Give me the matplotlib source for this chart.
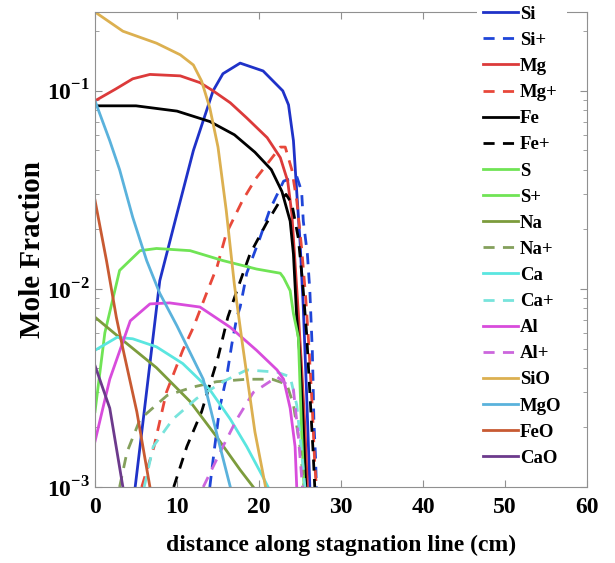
import matplotlib
matplotlib.use("Agg")
import matplotlib.pyplot as plt

plt.rcParams["font.family"] = ["Liberation Serif", "DejaVu Serif"]
plt.rcParams["font.weight"] = "bold"
plt.rcParams["mathtext.fontset"] = "custom"
plt.rcParams["mathtext.rm"] = "Liberation Serif:bold"
plt.rcParams["mathtext.bf"] = "Liberation Serif:bold"

# ─── data (distance in cm, mole fraction) ─────────────────────────────────────
si_x = [4.9, 6.1, 7.9, 10.0, 12.0, 14.4, 15.6, 17.7, 20.5, 22.9, 23.6, 24.2, 24.6, 25.0, 25.4, 25.8, 26.2]
si_y = [0.001, 0.0026, 0.011, 0.024, 0.050, 0.100, 0.122, 0.138, 0.126, 0.100, 0.085, 0.056, 0.031, 0.0175, 0.0081, 0.003, 0.001]
sip_x = [14.0, 14.6, 15.2, 16.1, 16.7, 17.3, 17.7, 18.3, 18.5, 20.1, 21.3, 23.0, 24.6, 25.2, 25.4, 25.9, 26.2, 26.5, 26.6, 26.7, 26.9, 27.0]
sip_y = [0.001, 0.0016, 0.0025, 0.0037, 0.0053, 0.0072, 0.0081, 0.0108, 0.012, 0.018, 0.025, 0.035, 0.037, 0.031, 0.022, 0.015, 0.0098, 0.0049, 0.0033, 0.0021, 0.0014, 0.001]
mg_x = [0, 2.5, 4.6, 6.7, 10.4, 12.8, 14.4, 16.5, 18.5, 21.0, 22.6, 23.5, 24.0, 24.4, 24.8, 25.2, 25.6, 25.9]
mg_y = [0.089, 0.102, 0.115, 0.121, 0.119, 0.110, 0.100, 0.087, 0.073, 0.058, 0.046, 0.035, 0.024, 0.0135, 0.0075, 0.004, 0.002, 0.001]
mgp_x = [5.7, 7.2, 8.7, 10.7, 12.0, 13.6, 14.9, 16.0, 18.0, 19.6, 22.6, 23.2, 24.0, 24.6, 25.2, 25.7, 26.1, 26.5, 26.8, 27.0]
mgp_y = [0.001, 0.0016, 0.003, 0.0049, 0.0064, 0.0095, 0.013, 0.019, 0.028, 0.036, 0.052, 0.052, 0.040, 0.028, 0.016, 0.009, 0.005, 0.0025, 0.0013, 0.001]
fe_x = [0, 5.0, 10.0, 14.0, 17.0, 19.5, 21.5, 22.8, 23.8, 24.2, 24.6, 25.0, 25.4, 25.7]
fe_y = [0.084, 0.084, 0.079, 0.070, 0.060, 0.049, 0.040, 0.031, 0.022, 0.015, 0.0072, 0.0045, 0.002, 0.001]
fep_x = [9.6, 11.2, 13.0, 15.0, 16.2, 17.3, 18.9, 20.9, 22.6, 23.3, 24.0, 24.8, 25.3, 25.8, 26.2, 26.6, 26.8]
fep_y = [0.001, 0.0016, 0.0024, 0.0045, 0.0072, 0.0098, 0.015, 0.0214, 0.028, 0.030, 0.027, 0.018, 0.011, 0.006, 0.003, 0.0015, 0.001]
s_x = [0, 1.2, 3.0, 5.5, 7.5, 11.6, 15.6, 19.7, 22.6, 23.0, 23.8, 24.2, 24.8, 25.2, 25.4, 25.5]
s_y = [0.0024, 0.006, 0.0124, 0.0156, 0.016, 0.0156, 0.0139, 0.0126, 0.012, 0.0114, 0.0098, 0.0075, 0.0057, 0.0019, 0.0012, 0.001]
sp_x = [0, 25.0]
sp_y = [0.0005, 0.0005]
na_x = [0, 3.4, 7.5, 11.6, 14.8, 17.7, 19.3]
na_y = [0.0072, 0.0055, 0.004, 0.0027, 0.0018, 0.00122, 0.001]
nap_x = [3.0, 3.9, 5.5, 8.8, 12.0, 14.8, 18.5, 21.6, 23.4, 24.2, 25.0, 25.5]
nap_y = [0.001, 0.0015, 0.0022, 0.0029, 0.0032, 0.0034, 0.0035, 0.0035, 0.0033, 0.0026, 0.0016, 0.001]
ca_x = [0, 2.7, 4.6, 7.5, 10.7, 14.0, 16.5, 18.5, 20.5, 21.1]
ca_y = [0.0049, 0.0057, 0.0056, 0.0051, 0.0042, 0.0031, 0.0022, 0.0016, 0.00112, 0.001]
cap_x = [6.0, 7.1, 9.5, 12.4, 15.6, 18.5, 22.2, 23.8, 24.6, 25.2, 25.6]
cap_y = [0.001, 0.0016, 0.0022, 0.0028, 0.0034, 0.0039, 0.0038, 0.0036, 0.0026, 0.0015, 0.001]
al_x = [0, 1.8, 4.3, 6.7, 9.1, 12.8, 16.5, 19.7, 22.2, 23.0, 23.8, 24.4, 24.6]
al_y = [0.0017, 0.0035, 0.0069, 0.0084, 0.0085, 0.0081, 0.0064, 0.0049, 0.0039, 0.0035, 0.0025, 0.0016, 0.001]
alp_x = [13.2, 15.6, 17.3, 19.3, 22.2, 24.2, 24.8, 25.3]
alp_y = [0.001, 0.0016, 0.0022, 0.0030, 0.0036, 0.0031, 0.0018, 0.001]
sio_x = [0, 3.4, 7.5, 10.4, 12.0, 13.0, 14.0, 15.0, 16.0, 17.0, 18.0, 19.5, 20.8]
sio_y = [0.25, 0.20, 0.174, 0.152, 0.135, 0.112, 0.082, 0.052, 0.025, 0.0105, 0.0052, 0.0019, 0.001]
mgo_x = [0, 1.8, 3.0, 4.6, 6.3, 7.9, 10.0, 13.2, 14.4, 15.6, 16.5]
mgo_y = [0.089, 0.056, 0.040, 0.023, 0.0139, 0.0095, 0.0065, 0.0035, 0.0022, 0.0014, 0.001]
feo_x = [0, 1.4, 2.6, 3.4, 5.1, 6.7]
feo_y = [0.028, 0.0139, 0.0072, 0.005, 0.0024, 0.001]
cao_x = [0, 1.8, 3.4]
cao_y = [0.0041, 0.0025, 0.001]

# (label, x, y, colour, dashed)
series = [
    ("Si",  si_x,  si_y,  "#1f32c8", False),
    ("Si+", sip_x, sip_y, "#1f45d8", True),
    ("Mg",  mg_x,  mg_y,  "#dc3a3a", False),
    ("Mg+", mgp_x, mgp_y, "#e8483a", True),
    ("Fe",  fe_x,  fe_y,  "#000000", False),
    ("Fe+", fep_x, fep_y, "#000000", True),
    ("S",   s_x,   s_y,   "#70e455", False),
    ("S+",  sp_x,  sp_y,  "#70e455", False),
    ("Na",  na_x,  na_y,  "#7c9c3c", False),
    ("Na+", nap_x, nap_y, "#84a05c", True),
    ("Ca",  ca_x,  ca_y,  "#5ae6e0", False),
    ("Ca+", cap_x, cap_y, "#78e4dc", True),
    ("Al",  al_x,  al_y,  "#d84cdc", False),
    ("Al+", alp_x, alp_y, "#cc66dd", True),
    ("SiO", sio_x, sio_y, "#dcb050", False),
    ("MgO", mgo_x, mgo_y, "#5ab2dc", False),
    ("FeO", feo_x, feo_y, "#c85a32", False),
    ("CaO", cao_x, cao_y, "#6c3a8c", False),
]

fig = plt.figure(figsize=(6.15, 5.63), dpi=100)
ax = fig.add_axes([95 / 615, 76 / 563, 492 / 615, 475 / 563])

for label, x, y, color, dashed in series:
    ls = (0, (4, 3)) if dashed else "-"
    ax.plot(x, y, color=color, lw=2.0, ls=ls, label=label)

ax.set_yscale("log")
ax.set_xlim(0, 60)
ax.set_ylim(1e-3, 0.25)
ax.set_xticks([0, 10, 20, 30, 40, 50, 60])
ax.set_xticklabels(["0", "10", "20", "30", "40", "50", "60"])
ax.set_yticks([1e-3, 1e-2, 1e-1])
ax.set_yticklabels([r"$10^{-3}$", r"$10^{-2}$", r"$10^{-1}$"])
ax.tick_params(which="both", direction="in", top=True, right=True,
               colors="#909090", labelcolor="black", labelsize=17)
ax.tick_params(which="major", length=5)
ax.tick_params(which="minor", length=3)
ax.tick_params(axis="x", pad=7)
for sp in ax.spines.values():
    sp.set_color("#909090")
    sp.set_linewidth(0.8)

ax.set_xlabel("distance along stagnation line (cm)", fontsize=17, fontweight="bold", labelpad=12)
ax.set_ylabel("Mole Fraction", fontsize=21, fontweight="bold", labelpad=1)

leg = ax.legend(loc="upper left", bbox_to_anchor=(477 / 615, 1.0),
                bbox_transform=fig.transFigure, borderaxespad=0,
                prop={"family": "Liberation Serif", "weight": "bold", "size": 13.5},
                handlelength=1.9, handletextpad=0.1, labelspacing=0.48,
                borderpad=0.3, frameon=True, fancybox=False)
leg.get_frame().set_edgecolor("none")
leg.get_frame().set_facecolor("white")
leg.get_frame().set_alpha(1.0)

fig.savefig("out.png", dpi=100)
